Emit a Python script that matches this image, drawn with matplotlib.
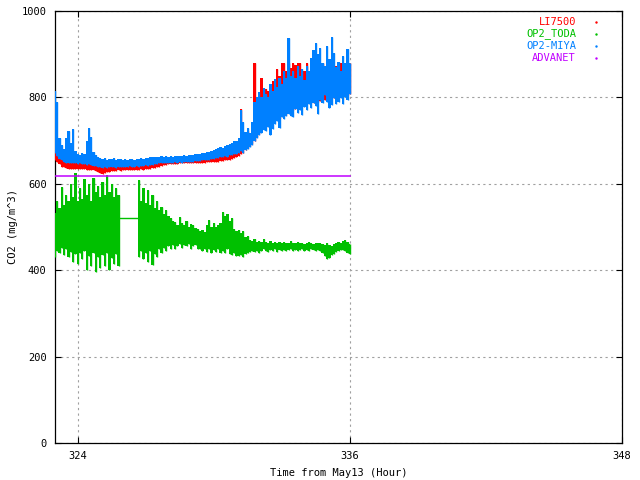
import numpy as np
import matplotlib
matplotlib.use("Agg")
import matplotlib.pyplot as plt
from matplotlib.lines import Line2D

# ---------------- data ----------------
# all envelopes sampled every 0.1 h from 323.0 to 336.0
t0, dt = 323.0, 0.1

# OP2-MIYA envelope
miya_lo = [672, 665, 658, 654, 650, 648, 649, 648, 647, 648, 646,
           647, 645, 646, 644, 645, 644, 642, 641, 639, 638,
           637, 638, 636, 639, 638, 640, 637, 639, 640, 638,
           640, 639, 641, 640, 639, 641, 640, 642, 641, 643,
           642, 644, 643, 645, 646, 647, 648, 648, 649, 648,
           649, 648, 650, 649, 650, 649, 650, 650, 651, 650,
           651, 652, 652, 653, 654, 655, 656, 656, 658, 658,
           660, 659, 661, 662, 664, 663, 666, 667, 668, 670,
           672, 675, 672, 678, 680, 685, 690, 698, 705, 712,
           718, 725, 722, 732, 712, 728, 738, 745, 730, 755,
           750, 758, 762, 758, 755, 772, 765, 770, 760, 778,
           770, 785, 775, 788, 780, 762, 795, 788, 805, 790,
           775, 782, 798, 785, 790, 798, 785, 800, 795, 808]
miya_hi = [815, 790, 705, 690, 680, 705, 722, 695, 728, 675, 668,
           666, 672, 668, 700, 730, 708, 674, 666, 663, 660,
           657, 659, 656, 658, 657, 659, 656, 658, 657, 656,
           657, 656, 658, 657, 656, 658, 657, 659, 658, 660,
           660, 661, 662, 661, 663, 662, 664, 663, 664, 663,
           664, 663, 665, 664, 665, 664, 666, 665, 666, 667,
           667, 668, 670, 669, 671, 672, 674, 673, 676, 678,
           680, 682, 685, 684, 688, 690, 693, 695, 700, 698,
           705, 770, 742, 720, 730, 718, 742, 790, 800, 812,
           800, 822, 808, 800, 832, 815, 842, 825, 845, 832,
           862, 846, 937, 850, 860, 845, 872, 850, 866, 840,
           872, 860, 892, 910, 926, 900, 915, 880, 872, 920,
           890, 940, 902, 870, 882, 860, 896, 880, 912, 880]

# LI7500 envelope
li_lo = [655, 650, 645, 640, 638, 636, 635, 634, 634, 635, 635,
         635, 634, 634, 633, 633, 632, 631, 629, 628, 624,
         622, 626, 627, 628, 629, 630, 630, 631, 630, 631,
         632, 631, 632, 633, 632, 633, 633, 634, 633, 634,
         635, 635, 636, 637, 638, 640, 641, 643, 644, 645,
         646, 646, 646, 646, 647, 647, 647, 647, 647, 647,
         648, 648, 648, 648, 649, 649, 650, 650, 650, 650,
         651, 651, 652, 653, 654, 655, 656, 658, 660, 662,
         665, 668, 672, 678, 682, 688, 692, 700, 708, 715,
         722, 730, 732, 735, 738, 740, 745, 748, 752, 758,
         758, 760, 765, 768, 770, 772, 775, 778, 780, 782,
         784, 786, 787, 788, 789, 790, 792, 795, 795, 795,
         796, 798, 799, 800, 801, 802, 804, 805, 806, 808]
li_hi = [720, 690, 668, 662, 658, 656, 655, 653, 652, 651, 650,
         650, 650, 649, 648, 648, 648, 646, 645, 644, 642,
         642, 643, 643, 642, 643, 643, 643, 644, 643, 644,
         644, 644, 644, 645, 644, 645, 645, 645, 645, 645,
         646, 646, 647, 647, 648, 649, 650, 651, 652, 652,
         652, 652, 652, 653, 653, 653, 653, 653, 653, 653,
         654, 654, 655, 655, 656, 657, 658, 659, 660, 660,
         661, 662, 664, 665, 668, 670, 674, 676, 682, 688,
         700, 772, 720, 712, 722, 718, 730, 880, 795, 800,
         845, 810, 820, 815, 830, 838, 820, 865, 850, 880,
         880, 860, 880, 868, 880, 875, 880, 880, 850, 860,
         880, 855, 862, 880, 855, 880, 870, 880, 860, 862,
         880, 850, 852, 872, 860, 880, 875, 880, 860, 880]

# OP2_TODA envelope
toda_lo = [430, 445, 440, 452, 435, 448, 430, 442, 420, 438, 415,
           440, 425, 445, 400, 432, 410, 440, 395, 430, 405,
           435, 410, 440, 400, 428, 415, 438, 410, 521, 521,
           521, 521, 521, 521, 521, 521, 430, 445, 425, 440,
           420, 445, 412, 438, 430, 450, 440, 452, 445, 455,
           448, 458, 450, 455, 460, 452, 458, 455, 460, 450,
           455, 458, 450, 448, 445, 450, 442, 448, 440, 446,
           442, 450, 440, 445, 440, 448, 438, 435, 440, 432,
           432, 436, 431, 438, 440, 442, 444, 441, 445, 440,
           444, 448, 445, 442, 446, 444, 448, 443, 446, 445,
           447, 444, 446, 448, 445, 447, 444, 446, 448, 445,
           447, 445, 448, 446, 444, 447, 445, 440, 432, 425,
           428, 435, 438, 442, 445, 446, 447, 444, 440, 438]
toda_hi = [532, 560, 545, 593, 550, 575, 560, 600, 570, 625, 560,
           590, 565, 610, 575, 600, 560, 613, 580, 595, 570,
           605, 575, 620, 580, 600, 570, 590, 575, 521, 521,
           521, 521, 521, 521, 521, 521, 609, 560, 590, 555,
           585, 550, 575, 545, 560, 540, 546, 530, 540, 525,
           520, 515, 512, 505, 523, 510, 505, 515, 500, 508,
           505, 498, 495, 490, 493, 488, 505, 516, 500, 510,
           500, 505, 510, 535, 525, 530, 515, 520, 495, 490,
           492, 485, 490, 478, 480, 470, 468, 472, 466, 468,
           465, 472, 466, 462, 468, 464, 466, 462, 465, 463,
           466, 462, 464, 468, 463, 462, 465, 462, 463, 461,
           463, 465, 462, 460, 464, 462, 463, 460, 458, 462,
           458, 456, 460, 462, 465, 463, 468, 470, 465, 460]

# ADVANET (constant)
adv_t = [323.0, 336.0]
adv_v = [618, 618]

series_names = ["LI7500", "OP2_TODA", "OP2-MIYA", "ADVANET"]
series_colors = ["#ff0000", "#00c000", "#0080ff", "#c000ff"]

x_ticks = [324, 336, 348]
y_ticks = [0, 200, 400, 600, 800, 1000]

# ---------------- drawing ----------------
plt.rcParams['font.family'] = ['DejaVu Sans Mono']
fig = plt.figure(figsize=(6.4, 4.8), dpi=100)
W, H = 640, 480
ax = fig.add_axes([55 / W, 1 - 443 / H, 567 / W, 432 / H])


def draw_band(lo, hi, color, z):
    lo = np.asarray(lo, float)
    hi = np.asarray(hi, float)
    t = t0 + dt * np.arange(len(lo))
    ax.fill_between(t, lo, hi, step='mid', color=color, lw=0, zorder=z)
    ax.vlines(t, lo, hi, color=color, lw=1.0, zorder=z)
    flat = lo == hi
    if flat.any():
        idx = np.where(flat)[0]
        a, b = max(idx[0] - 1, 0), min(idx[-1] + 1, len(t) - 1)
        ax.plot([t[a], t[b]], [lo[idx[0]], lo[idx[-1]]], color=color,
                lw=1.0, zorder=z)


draw_band(li_lo, li_hi, series_colors[0], 3)
draw_band(toda_lo, toda_hi, series_colors[1], 4)
draw_band(miya_lo, miya_hi, series_colors[2], 5)
ax.plot(adv_t, adv_v, color=series_colors[3], lw=1.1, zorder=6)

ax.set_xlim(323, 348)
ax.set_ylim(0, 1000)
ax.set_xticks(x_ticks)
ax.set_yticks(y_ticks)
ax.tick_params(direction='in', length=4, width=0.8, top=True, right=True,
               labelsize=7.5, colors='black')
ax.tick_params(axis='x', pad=6)
ax.tick_params(axis='y', pad=6)
ax.grid(True, color='#a0a0a0', linestyle=(0, (2, 3)), lw=0.8, zorder=1)
for s in ax.spines.values():
    s.set_linewidth(0.9)

ax.set_xlabel("Time from May13 (Hour)", fontsize=7.5, labelpad=5)
fig.text(13 / W, 1 - 226 / H, "CO2 (mg/m^3)", rotation=90, fontsize=7.5,
         ha='center', va='center')

rows_y = [22, 34, 46, 58]
for name, col, yy in zip(series_names, series_colors, rows_y):
    fig.text(576 / W, 1 - yy / H, name, color=col, fontsize=7.5,
             ha='right', va='center')
    fig.add_artist(Line2D([596 / W], [1 - yy / H], marker='s', markersize=0.7,
                          color=col, lw=0, transform=fig.transFigure))

fig.savefig("out.png", dpi=100)
